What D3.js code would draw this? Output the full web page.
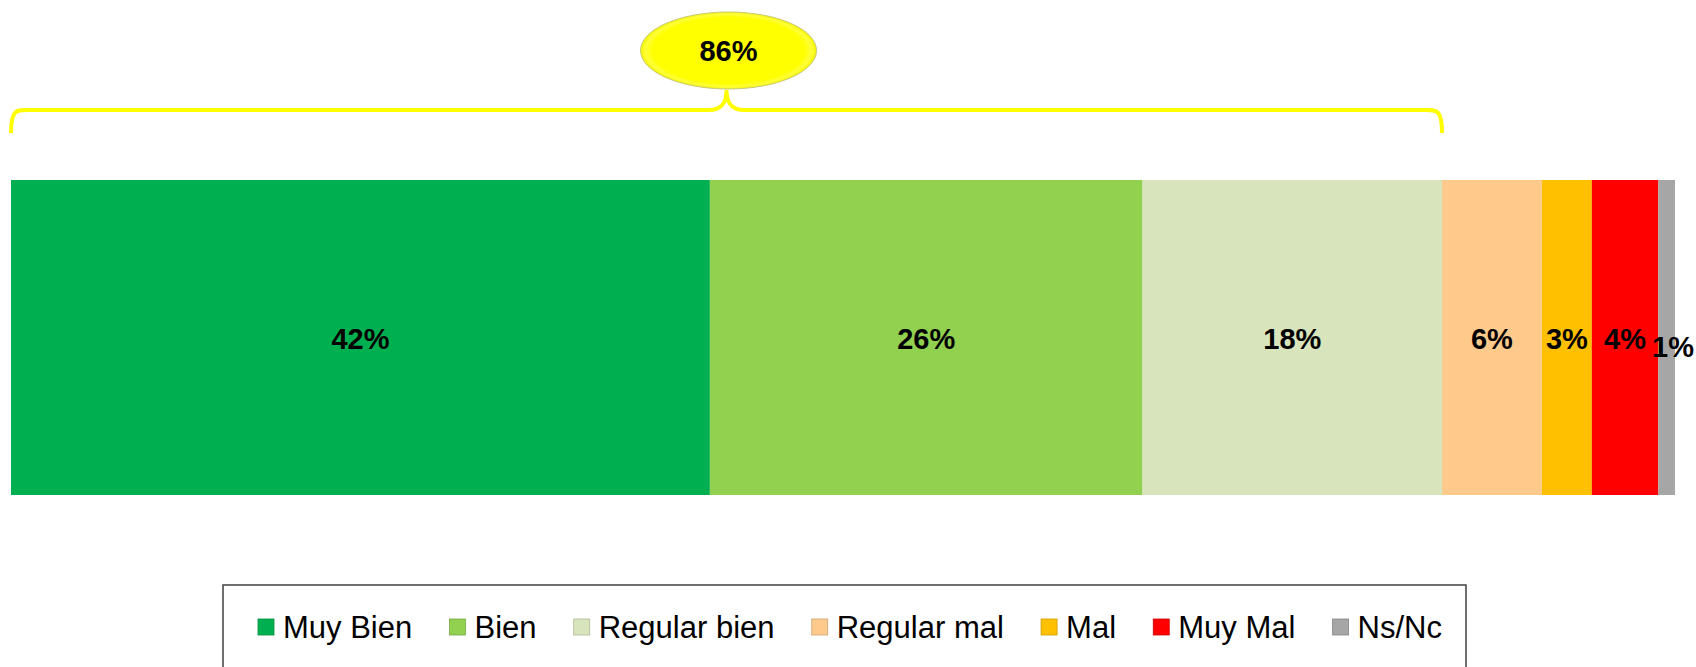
<!DOCTYPE html>
<html>
<head>
<meta charset="utf-8">
<script src="https://cdn.jsdelivr.net/npm/d3@7/dist/d3.min.js"></script>
<style>
  html, body { margin: 0; padding: 0; background: #fff; }
  svg { display: block; font-family: Arial, "Liberation Sans", sans-serif; }
</style>
</head>
<body>
<svg id="chart" width="1696" height="667"></svg>
<script>
// data
var categories = ["Muy Bien", "Bien", "Regular bien", "Regular mal", "Mal", "Muy Mal", "Ns/Nc"];
var values = [42, 26, 18, 6, 3, 4, 1];
var colors = ["#00B050", "#92D050", "#D8E4BC", "#FDCA8C", "#FFC000", "#FF0000", "#A6A6A6"];
var bracketValue = 86;   // Muy Bien + Bien + Regular bien
var bracketLabel = "86%";

var W = 1696;
var svg = d3.select("#chart");

var x = d3.scaleLinear().domain([0, 100]).range([11, 1675]);
var barTop = 180, barBottom = 495;

// stacked bar
var stack = [], acc = 0;
for (var i = 0; i < values.length; i++) {
  stack.push({ name: categories[i], value: values[i], x0: acc, x1: acc + values[i], color: colors[i] });
  acc += values[i];
}

svg.selectAll("rect.seg")
  .data(stack)
  .enter().append("rect")
  .attr("class", "seg")
  .attr("x", function(d) { return x(d.x0); })
  .attr("y", barTop)
  .attr("width", function(d) { return x(d.x1) - x(d.x0); })
  .attr("height", barBottom - barTop)
  .style("fill", function(d) { return d.color; });

var labels = svg.selectAll("text.seg")
  .data(stack)
  .enter().append("text")
  .attr("class", "seg")
  .attr("x", function(d) { return (x(d.x0) + x(d.x1)) / 2; })
  .attr("y", (barTop + barBottom) / 2 + 11)
  .attr("text-anchor", "middle")
  .style("font-size", "29px")
  .style("font-weight", "bold")
  .style("fill", "#000")
  .text(function(d) { return d.value + "%"; });

// a label wider than its segment gets pushed against the right edge
labels.each(function(d) {
  var w = this.getComputedTextLength();
  if (w > x(d.x1) - x(d.x0) && d.x1 >= 100) {
    d3.select(this).attr("x", W - 2 - w / 2).attr("y", (barTop + barBottom) / 2 + 19);
  }
});

// bracket over the first three segments
var bx0 = x(0), bx1 = x(bracketValue), tip = (bx0 + bx1) / 2;
var by = 110, bEnd = 133, bTip = 90;
var bracePath = "M" + bx0 + "," + bEnd +
  " C" + bx0 + "," + (by - 2) + " " + (bx0 + 6) + "," + by + " " + (bx0 + 20) + "," + by +
  " L" + (tip - 18) + "," + by +
  " C" + (tip - 4) + "," + by + " " + tip + "," + (by - 8) + " " + tip + "," + bTip +
  " C" + tip + "," + (by - 8) + " " + (tip + 4) + "," + by + " " + (tip + 18) + "," + by +
  " L" + (bx1 - 20) + "," + by +
  " C" + (bx1 - 6) + "," + by + " " + bx1 + "," + (by - 2) + " " + bx1 + "," + bEnd;

svg.append("path")
  .attr("d", bracePath)
  .style("fill", "none")
  .style("stroke", "#FFFF00")
  .style("stroke-width", 4);

var defs = svg.append("defs");
var grad = defs.append("radialGradient")
  .attr("id", "bubble")
  .attr("cx", "50%").attr("cy", "50%").attr("r", "50%");
grad.append("stop").attr("offset", "0%").attr("stop-color", "#FFFF00");
grad.append("stop").attr("offset", "86%").attr("stop-color", "#FFFF00");
grad.append("stop").attr("offset", "94%").attr("stop-color", "#FFFF3A");
grad.append("stop").attr("offset", "100%").attr("stop-color", "#F4F400");

svg.append("ellipse")
  .attr("cx", tip + 2)
  .attr("cy", 50.5)
  .attr("rx", 88)
  .attr("ry", 38.5)
  .style("fill", "url(#bubble)")
  .style("stroke", "#C9C97A")
  .style("stroke-width", 1);

svg.append("text")
  .attr("x", tip + 2)
  .attr("y", 61)
  .attr("text-anchor", "middle")
  .style("font-size", "29px")
  .style("font-weight", "bold")
  .style("fill", "#000")
  .text(bracketLabel);

// legend
var legendBox = { x: 223, y: 585, w: 1243, h: 120 };
svg.append("rect")
  .attr("x", legendBox.x)
  .attr("y", legendBox.y)
  .attr("width", legendBox.w)
  .attr("height", legendBox.h)
  .style("fill", "#fff")
  .style("stroke", "#404040")
  .style("stroke-width", 1.5);

var legend = svg.append("g");
var items = legend.selectAll("g.item")
  .data(stack)
  .enter().append("g")
  .attr("class", "item");

items.append("rect")
  .attr("width", 16)
  .attr("height", 16)
  .attr("y", 619)
  .style("fill", function(d) { return d.color; })
  .style("stroke", function(d) { return d3.color(d.color).darker(0.6); })
  .style("stroke-width", 0.8);

items.append("text")
  .attr("x", 25)
  .attr("y", 638)
  .style("font-size", "31px")
  .style("fill", "#000")
  .text(function(d) { return d.name; });

// lay items out from first marker to end of last label
var startX = 258, endX = 1442;
var widths = [];
items.each(function() { widths.push(25 + d3.select(this).select("text").node().getComputedTextLength()); });
var total = d3.sum(widths);
var gap = (endX - startX - total) / (widths.length - 1);
var pos = startX;
items.each(function(d, k) {
  d3.select(this).attr("transform", "translate(" + pos + ",0)");
  pos += widths[k] + gap;
});
</script>
</body>
</html>
